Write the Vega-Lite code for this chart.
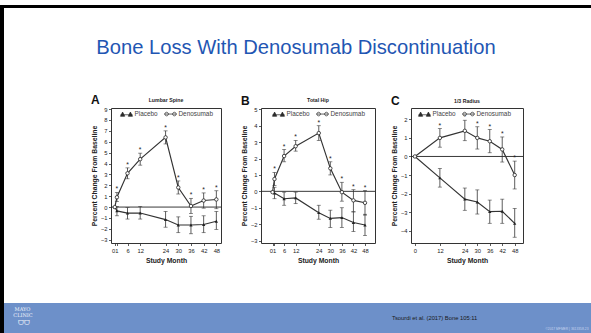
{
  "$schema": "https://vega.github.io/schema/vega-lite/v6.json",
  "background": "white",
  "padding": 0,
  "spacing": 0,
  "config": {
    "font": "Liberation Sans",
    "view": {"stroke": null},
    "axis": {"grid": false, "domain": false, "tickColor": "#333", "tickSize": 2.5, "tickWidth": 0.8, "labelFontSize": 5.8, "labelColor": "#222", "labelPadding": 1.5, "titleFontSize": 6.8, "titleFontWeight": "bold", "titleColor": "#222", "labelFont": "Liberation Sans", "titleFont": "Liberation Sans"},
    "axisX": {"titlePadding": 5, "labelFlush": false, "labelOverlap": false},
    "axisY": {"titlePadding": 3},
    "legend": {"orient": "none", "legendX": 9, "legendY": -1, "direction": "horizontal", "title": null, "padding": 0, "labelFontSize": 6.4, "labelColor": "#444", "symbolSize": 144, "symbolOpacity": 1, "symbolStrokeWidth": 0.7, "columnPadding": 5, "labelOffset": 1.5},
    "title": {"font": "Liberation Sans", "color": "#222"}
  },
  "datasets": {
    "d": [
      {"p": "A", "g": "Denosumab", "m": 0, "v": 0},
      {"p": "A", "g": "Denosumab", "m": 1, "v": 0.9, "lo": 0.5, "hi": 1.35, "st": 1},
      {"p": "A", "g": "Denosumab", "m": 6, "v": 3.1, "lo": 2.6, "hi": 3.6, "st": 1},
      {"p": "A", "g": "Denosumab", "m": 12, "v": 4.4, "lo": 3.85, "hi": 4.95, "st": 1},
      {"p": "A", "g": "Denosumab", "m": 24, "v": 6.4, "lo": 5.8, "hi": 7.0, "st": 1},
      {"p": "A", "g": "Denosumab", "m": 30, "v": 1.8, "lo": 1.2, "hi": 2.4, "st": 1},
      {"p": "A", "g": "Denosumab", "m": 36, "v": 0.1, "lo": -0.6, "hi": 0.8, "st": 1},
      {"p": "A", "g": "Denosumab", "m": 42, "v": 0.6, "lo": -0.1, "hi": 1.3, "st": 1},
      {"p": "A", "g": "Denosumab", "m": 48, "v": 0.7, "lo": -0.15, "hi": 1.5, "st": 1},
      {"p": "A", "g": "Placebo", "m": 0, "v": 0},
      {"p": "A", "g": "Placebo", "m": 1, "v": -0.35, "lo": -0.8, "hi": 0.05},
      {"p": "A", "g": "Placebo", "m": 6, "v": -0.55, "lo": -1.1, "hi": -0.05},
      {"p": "A", "g": "Placebo", "m": 12, "v": -0.55, "lo": -1.1, "hi": 0.05},
      {"p": "A", "g": "Placebo", "m": 24, "v": -1.15, "lo": -1.85, "hi": -0.4},
      {"p": "A", "g": "Placebo", "m": 30, "v": -1.65, "lo": -2.35, "hi": -0.9},
      {"p": "A", "g": "Placebo", "m": 36, "v": -1.65, "lo": -2.45, "hi": -0.85},
      {"p": "A", "g": "Placebo", "m": 42, "v": -1.6, "lo": -2.35, "hi": -0.8},
      {"p": "A", "g": "Placebo", "m": 48, "v": -1.3, "lo": -2.05, "hi": -0.4},
      {"p": "B", "g": "Denosumab", "m": 0, "v": -0.05},
      {"p": "B", "g": "Denosumab", "m": 1, "v": 0.75, "lo": 0.35, "hi": 1.15, "st": 1},
      {"p": "B", "g": "Denosumab", "m": 6, "v": 2.15, "lo": 1.8, "hi": 2.55, "st": 1},
      {"p": "B", "g": "Denosumab", "m": 12, "v": 2.75, "lo": 2.45, "hi": 3.1, "st": 1},
      {"p": "B", "g": "Denosumab", "m": 24, "v": 3.55, "lo": 3.1, "hi": 4.0, "st": 1},
      {"p": "B", "g": "Denosumab", "m": 30, "v": 1.4, "lo": 1.0, "hi": 1.8, "st": 1},
      {"p": "B", "g": "Denosumab", "m": 36, "v": -0.05, "lo": -0.6, "hi": 0.55, "st": 1},
      {"p": "B", "g": "Denosumab", "m": 42, "v": -0.55, "lo": -1.25, "hi": 0.1, "st": 1},
      {"p": "B", "g": "Denosumab", "m": 48, "v": -0.7, "lo": -1.45, "hi": 0.05, "st": 1},
      {"p": "B", "g": "Placebo", "m": 0, "v": 0},
      {"p": "B", "g": "Placebo", "m": 1, "v": -0.1, "lo": -0.45, "hi": 0.25},
      {"p": "B", "g": "Placebo", "m": 6, "v": -0.45, "lo": -0.85, "hi": -0.05},
      {"p": "B", "g": "Placebo", "m": 12, "v": -0.4, "lo": -0.75, "hi": -0.05},
      {"p": "B", "g": "Placebo", "m": 24, "v": -1.3, "lo": -1.7, "hi": -0.85},
      {"p": "B", "g": "Placebo", "m": 30, "v": -1.65, "lo": -2.2, "hi": -1.15},
      {"p": "B", "g": "Placebo", "m": 36, "v": -1.6, "lo": -2.2, "hi": -1.0},
      {"p": "B", "g": "Placebo", "m": 42, "v": -1.9, "lo": -2.45, "hi": -1.25},
      {"p": "B", "g": "Placebo", "m": 48, "v": -2.05, "lo": -2.7, "hi": -1.4},
      {"p": "C", "g": "Denosumab", "m": 0, "v": 0},
      {"p": "C", "g": "Denosumab", "m": 12, "v": 1.0, "lo": 0.5, "hi": 1.5, "st": 1},
      {"p": "C", "g": "Denosumab", "m": 24, "v": 1.38, "lo": 0.85, "hi": 1.95, "st": 1},
      {"p": "C", "g": "Denosumab", "m": 30, "v": 1.0, "lo": 0.4, "hi": 1.6, "st": 1},
      {"p": "C", "g": "Denosumab", "m": 36, "v": 0.82, "lo": 0.2, "hi": 1.45, "st": 1},
      {"p": "C", "g": "Denosumab", "m": 42, "v": 0.38, "lo": -0.3, "hi": 1.05, "st": 1},
      {"p": "C", "g": "Denosumab", "m": 48, "v": -1.0, "lo": -1.75, "hi": -0.25, "st": 1},
      {"p": "C", "g": "Placebo", "m": 0, "v": 0},
      {"p": "C", "g": "Placebo", "m": 12, "v": -1.15, "lo": -1.65, "hi": -0.65},
      {"p": "C", "g": "Placebo", "m": 24, "v": -2.3, "lo": -2.9, "hi": -1.7},
      {"p": "C", "g": "Placebo", "m": 30, "v": -2.45, "lo": -3.1, "hi": -1.8},
      {"p": "C", "g": "Placebo", "m": 36, "v": -2.97, "lo": -3.6, "hi": -2.35},
      {"p": "C", "g": "Placebo", "m": 42, "v": -2.95, "lo": -3.6, "hi": -2.3},
      {"p": "C", "g": "Placebo", "m": 48, "v": -3.6, "lo": -4.35, "hi": -2.8}
    ]
  },
  "hconcat": [
    {"width": 4, "height": 333, "view": {"fill": "black", "stroke": null}, "data": {"values": [{}]}, "mark": {"type": "text", "text": " "}},
    {
      "spacing": 0,
      "vconcat": [
        {"width": 587, "height": 3, "view": {"fill": "black", "stroke": null}, "data": {"values": [{}]}, "mark": {"type": "text", "text": " "}},
        {"width": 587, "height": 82, "data": {"values": [{"t": "Bone Loss With Denosumab Discontinuation"}]}, "mark": {"type": "text", "fontSize": 20.2, "color": "#1f56b3", "font": "Liberation Sans", "dx": -1.5, "dy": -5}, "encoding": {"text": {"field": "t"}}},
        {
          "spacing": 0,
          "resolve": {"legend": {"shape": "independent", "fill": "independent", "stroke": "independent"}},
          "hconcat": [
            {"width": 86, "height": 10, "data": {"values": [{}]}, "mark": {"type": "text", "text": " "}},
            {
              "title": {"text": "A", "anchor": "start", "fontSize": 12, "fontWeight": "bold", "color": "#111", "offset": 0, "dy": 10},
              "resolve": {"legend": {"shape": "independent", "fill": "independent", "stroke": "independent"}},
              "vconcat": [{
                "width": 110, "height": 135,
                "view": {"stroke": "#333", "strokeWidth": 1},
                "title": {"text": "Lumbar Spine", "fontSize": 5.2, "fontWeight": "bold", "offset": 3, "color": "#222"},
                "layer": [
                  {"data": {"values": [{}]}, "mark": {"type": "rule", "color": "#222", "strokeWidth": 0.9}, "encoding": {"y": {"datum": 0, "type": "quantitative", "scale": {"domain": [-3.3, 9.1], "nice": false, "zero": false}, "axis": {"title": "Percent Change From Baseline", "values": [-3,-2,-1,0,1,2,3,4,5,6,7,8,9]}}}},
                  {"data": {"name": "d"}, "transform": [{"filter": "datum.p === 'A'"}], "mark": {"type": "line", "color": "#333", "strokeWidth": 1.15},
                   "encoding": {
                     "x": {"field": "m", "type": "quantitative", "scale": {"domain": [-1.8, 50.2], "nice": false, "zero": false}, "axis": {"title": "Study Month", "values": [0,1,6,12,24,30,36,42,48], "labelExpr": "datum.value == 0 ? '01' : (datum.value == 1 ? '' : datum.label)"}},
                     "y": {"field": "v", "type": "quantitative", "scale": {"domain": [-3.3, 9.1], "nice": false, "zero": false}, "axis": {"title": "Percent Change From Baseline", "values": [-3,-2,-1,0,1,2,3,4,5,6,7,8,9]}},
                     "detail": {"field": "g"}}},
                  {"data": {"name": "d"}, "transform": [{"filter": "datum.p === 'A' && datum.lo != null"}], "mark": {"type": "errorbar", "ticks": {"size": 4}, "color": "#333", "thickness": 0.8},
                   "encoding": {
                     "x": {"field": "m", "type": "quantitative", "scale": {"domain": [-1.8, 50.2], "nice": false, "zero": false}, "axis": {"title": "Study Month", "values": [0,1,6,12,24,30,36,42,48], "labelExpr": "datum.value == 0 ? '01' : (datum.value == 1 ? '' : datum.label)"}},
                     "y": {"field": "lo", "type": "quantitative", "scale": {"domain": [-3.3, 9.1], "nice": false, "zero": false}, "axis": {"title": "Percent Change From Baseline", "values": [-3,-2,-1,0,1,2,3,4,5,6,7,8,9]}},
                     "y2": {"field": "hi"}}},
                  {"data": {"name": "d"}, "transform": [{"filter": "datum.p === 'A' && datum.g === 'Placebo'"}], "mark": {"type": "point", "shape": "triangle-up", "filled": true, "size": 11, "color": "#222", "opacity": 1},
                   "encoding": {
                     "x": {"field": "m", "type": "quantitative", "scale": {"domain": [-1.8, 50.2], "nice": false, "zero": false}, "axis": {"title": "Study Month", "values": [0,1,6,12,24,30,36,42,48], "labelExpr": "datum.value == 0 ? '01' : (datum.value == 1 ? '' : datum.label)"}},
                     "y": {"field": "v", "type": "quantitative", "scale": {"domain": [-3.3, 9.1], "nice": false, "zero": false}, "axis": {"title": "Percent Change From Baseline", "values": [-3,-2,-1,0,1,2,3,4,5,6,7,8,9]}}}},
                  {"data": {"name": "d"}, "transform": [{"filter": "datum.p === 'A' && datum.g === 'Denosumab'"}], "mark": {"type": "point", "shape": "circle", "size": 12, "fill": "white", "stroke": "#222", "strokeWidth": 0.8, "opacity": 1},
                   "encoding": {
                     "x": {"field": "m", "type": "quantitative", "scale": {"domain": [-1.8, 50.2], "nice": false, "zero": false}, "axis": {"title": "Study Month", "values": [0,1,6,12,24,30,36,42,48], "labelExpr": "datum.value == 0 ? '01' : (datum.value == 1 ? '' : datum.label)"}},
                     "y": {"field": "v", "type": "quantitative", "scale": {"domain": [-3.3, 9.1], "nice": false, "zero": false}, "axis": {"title": "Percent Change From Baseline", "values": [-3,-2,-1,0,1,2,3,4,5,6,7,8,9]}}}},
                  {"data": {"name": "d"}, "transform": [{"filter": "datum.p === 'A'"}], "mark": {"type": "point", "opacity": 0},
                   "encoding": {
                     "x": {"field": "m", "type": "quantitative", "scale": {"domain": [-1.8, 50.2], "nice": false, "zero": false}, "axis": {"title": "Study Month", "values": [0,1,6,12,24,30,36,42,48], "labelExpr": "datum.value == 0 ? '01' : (datum.value == 1 ? '' : datum.label)"}},
                     "y": {"field": "v", "type": "quantitative", "scale": {"domain": [-3.3, 9.1], "nice": false, "zero": false}, "axis": {"title": "Percent Change From Baseline", "values": [-3,-2,-1,0,1,2,3,4,5,6,7,8,9]}},
                     "shape": {"field": "g", "type": "nominal", "scale": {"domain": ["Placebo", "Denosumab"], "range": ["M-1,0.15H1M-1,0.4L-0.65,-0.3L-0.3,0.4ZM0.3,0.4L0.65,-0.3L1,0.4Z", "M-1,0H1M-0.35,0A0.3,0.3,0,1,1,-0.95,0A0.3,0.3,0,1,1,-0.35,0ZM0.95,0A0.3,0.3,0,1,1,0.35,0A0.3,0.3,0,1,1,0.95,0Z"]}},
                     "fill": {"field": "g", "type": "nominal", "scale": {"domain": ["Placebo", "Denosumab"], "range": ["#333", "white"]}},
                     "stroke": {"field": "g", "type": "nominal", "scale": {"domain": ["Placebo", "Denosumab"], "range": ["#222", "#222"]}}}},
                  {"data": {"name": "d"}, "transform": [{"filter": "datum.p === 'A' && datum.st == 1"}], "mark": {"type": "text", "text": "*", "fontSize": 6.8, "baseline": "bottom", "color": "#222"},
                   "encoding": {
                     "x": {"field": "m", "type": "quantitative", "scale": {"domain": [-1.8, 50.2], "nice": false, "zero": false}, "axis": {"title": "Study Month", "values": [0,1,6,12,24,30,36,42,48], "labelExpr": "datum.value == 0 ? '01' : (datum.value == 1 ? '' : datum.label)"}},
                     "y": {"field": "hi", "type": "quantitative", "scale": {"domain": [-3.3, 9.1], "nice": false, "zero": false}, "axis": {"title": "Percent Change From Baseline", "values": [-3,-2,-1,0,1,2,3,4,5,6,7,8,9]}}}}
                ]
              }]
            },
            {"width": 18, "height": 10, "data": {"values": [{}]}, "mark": {"type": "text", "text": " "}},
            {
              "title": {"text": "B", "anchor": "start", "fontSize": 12, "fontWeight": "bold", "color": "#111", "offset": 0, "dy": 10},
              "resolve": {"legend": {"shape": "independent", "fill": "independent", "stroke": "independent"}},
              "vconcat": [{
                "width": 114, "height": 135,
                "view": {"stroke": "#333", "strokeWidth": 1},
                "title": {"text": "Total Hip", "fontSize": 5.2, "fontWeight": "bold", "offset": 3, "color": "#222"},
                "layer": [
                  {"data": {"values": [{}]}, "mark": {"type": "rule", "color": "#222", "strokeWidth": 0.9}, "encoding": {"y": {"datum": 0, "type": "quantitative", "scale": {"domain": [-3.15, 5.08], "nice": false, "zero": false}, "axis": {"title": "Percent Change From Baseline", "values": [-3,-2,-1,0,1,2,3,4,5]}}}},
                  {"data": {"name": "d"}, "transform": [{"filter": "datum.p === 'B'"}], "mark": {"type": "line", "color": "#333", "strokeWidth": 1.15},
                   "encoding": {
                     "x": {"field": "m", "type": "quantitative", "scale": {"domain": [-6, 53.2], "nice": false, "zero": false}, "axis": {"title": "Study Month", "values": [0,1,6,12,24,30,36,42,48], "labelExpr": "datum.value == 0 ? '01' : (datum.value == 1 ? '' : datum.label)"}},
                     "y": {"field": "v", "type": "quantitative", "scale": {"domain": [-3.15, 5.08], "nice": false, "zero": false}, "axis": {"title": "Percent Change From Baseline", "values": [-3,-2,-1,0,1,2,3,4,5]}},
                     "detail": {"field": "g"}}},
                  {"data": {"name": "d"}, "transform": [{"filter": "datum.p === 'B' && datum.lo != null"}], "mark": {"type": "errorbar", "ticks": {"size": 4}, "color": "#333", "thickness": 0.8},
                   "encoding": {
                     "x": {"field": "m", "type": "quantitative", "scale": {"domain": [-6, 53.2], "nice": false, "zero": false}, "axis": {"title": "Study Month", "values": [0,1,6,12,24,30,36,42,48], "labelExpr": "datum.value == 0 ? '01' : (datum.value == 1 ? '' : datum.label)"}},
                     "y": {"field": "lo", "type": "quantitative", "scale": {"domain": [-3.15, 5.08], "nice": false, "zero": false}, "axis": {"title": "Percent Change From Baseline", "values": [-3,-2,-1,0,1,2,3,4,5]}},
                     "y2": {"field": "hi"}}},
                  {"data": {"name": "d"}, "transform": [{"filter": "datum.p === 'B' && datum.g === 'Placebo'"}], "mark": {"type": "point", "shape": "triangle-up", "filled": true, "size": 11, "color": "#222", "opacity": 1},
                   "encoding": {
                     "x": {"field": "m", "type": "quantitative", "scale": {"domain": [-6, 53.2], "nice": false, "zero": false}, "axis": {"title": "Study Month", "values": [0,1,6,12,24,30,36,42,48], "labelExpr": "datum.value == 0 ? '01' : (datum.value == 1 ? '' : datum.label)"}},
                     "y": {"field": "v", "type": "quantitative", "scale": {"domain": [-3.15, 5.08], "nice": false, "zero": false}, "axis": {"title": "Percent Change From Baseline", "values": [-3,-2,-1,0,1,2,3,4,5]}}}},
                  {"data": {"name": "d"}, "transform": [{"filter": "datum.p === 'B' && datum.g === 'Denosumab'"}], "mark": {"type": "point", "shape": "circle", "size": 12, "fill": "white", "stroke": "#222", "strokeWidth": 0.8, "opacity": 1},
                   "encoding": {
                     "x": {"field": "m", "type": "quantitative", "scale": {"domain": [-6, 53.2], "nice": false, "zero": false}, "axis": {"title": "Study Month", "values": [0,1,6,12,24,30,36,42,48], "labelExpr": "datum.value == 0 ? '01' : (datum.value == 1 ? '' : datum.label)"}},
                     "y": {"field": "v", "type": "quantitative", "scale": {"domain": [-3.15, 5.08], "nice": false, "zero": false}, "axis": {"title": "Percent Change From Baseline", "values": [-3,-2,-1,0,1,2,3,4,5]}}}},
                  {"data": {"name": "d"}, "transform": [{"filter": "datum.p === 'B'"}], "mark": {"type": "point", "opacity": 0},
                   "encoding": {
                     "x": {"field": "m", "type": "quantitative", "scale": {"domain": [-6, 53.2], "nice": false, "zero": false}, "axis": {"title": "Study Month", "values": [0,1,6,12,24,30,36,42,48], "labelExpr": "datum.value == 0 ? '01' : (datum.value == 1 ? '' : datum.label)"}},
                     "y": {"field": "v", "type": "quantitative", "scale": {"domain": [-3.15, 5.08], "nice": false, "zero": false}, "axis": {"title": "Percent Change From Baseline", "values": [-3,-2,-1,0,1,2,3,4,5]}},
                     "shape": {"field": "g", "type": "nominal", "scale": {"domain": ["Placebo", "Denosumab"], "range": ["M-1,0.15H1M-1,0.4L-0.65,-0.3L-0.3,0.4ZM0.3,0.4L0.65,-0.3L1,0.4Z", "M-1,0H1M-0.35,0A0.3,0.3,0,1,1,-0.95,0A0.3,0.3,0,1,1,-0.35,0ZM0.95,0A0.3,0.3,0,1,1,0.35,0A0.3,0.3,0,1,1,0.95,0Z"]}, "legend": {"legendX": 11}},
                     "fill": {"field": "g", "type": "nominal", "scale": {"domain": ["Placebo", "Denosumab"], "range": ["#333", "white"]}, "legend": {"legendX": 11}},
                     "stroke": {"field": "g", "type": "nominal", "scale": {"domain": ["Placebo", "Denosumab"], "range": ["#222", "#222"]}, "legend": {"legendX": 11}}}},
                  {"data": {"name": "d"}, "transform": [{"filter": "datum.p === 'B' && datum.st == 1"}], "mark": {"type": "text", "text": "*", "fontSize": 6.8, "baseline": "bottom", "color": "#222"},
                   "encoding": {
                     "x": {"field": "m", "type": "quantitative", "scale": {"domain": [-6, 53.2], "nice": false, "zero": false}, "axis": {"title": "Study Month", "values": [0,1,6,12,24,30,36,42,48], "labelExpr": "datum.value == 0 ? '01' : (datum.value == 1 ? '' : datum.label)"}},
                     "y": {"field": "hi", "type": "quantitative", "scale": {"domain": [-3.15, 5.08], "nice": false, "zero": false}, "axis": {"title": "Percent Change From Baseline", "values": [-3,-2,-1,0,1,2,3,4,5]}}}}
                ]
              }]
            },
            {"width": 14, "height": 10, "data": {"values": [{}]}, "mark": {"type": "text", "text": " "}},
            {
              "title": {"text": "C", "anchor": "start", "fontSize": 12, "fontWeight": "bold", "color": "#111", "offset": 0, "dy": 10},
              "resolve": {"legend": {"shape": "independent", "fill": "independent", "stroke": "independent"}},
              "vconcat": [{
                "width": 112, "height": 135,
                "view": {"stroke": "#333", "strokeWidth": 1},
                "title": {"text": "1/3 Radius", "fontSize": 5.2, "fontWeight": "bold", "offset": 3, "color": "#222"},
                "layer": [
                  {"data": {"values": [{}]}, "mark": {"type": "rule", "color": "#222", "strokeWidth": 0.9}, "encoding": {"y": {"datum": 0, "type": "quantitative", "scale": {"domain": [-4.66, 2.61], "nice": false, "zero": false}, "axis": {"title": "Percent Change From Baseline", "values": [-4,-3,-2,-1,0,1,2]}}}},
                  {"data": {"name": "d"}, "transform": [{"filter": "datum.p === 'C'"}], "mark": {"type": "line", "color": "#333", "strokeWidth": 1.15},
                   "encoding": {
                     "x": {"field": "m", "type": "quantitative", "scale": {"domain": [-1.9, 52], "nice": false, "zero": false}, "axis": {"title": "Study Month", "values": [0,12,24,30,36,42,48]}},
                     "y": {"field": "v", "type": "quantitative", "scale": {"domain": [-4.66, 2.61], "nice": false, "zero": false}, "axis": {"title": "Percent Change From Baseline", "values": [-4,-3,-2,-1,0,1,2]}},
                     "detail": {"field": "g"}}},
                  {"data": {"name": "d"}, "transform": [{"filter": "datum.p === 'C' && datum.lo != null"}], "mark": {"type": "errorbar", "ticks": {"size": 4}, "color": "#333", "thickness": 0.8},
                   "encoding": {
                     "x": {"field": "m", "type": "quantitative", "scale": {"domain": [-1.9, 52], "nice": false, "zero": false}, "axis": {"title": "Study Month", "values": [0,12,24,30,36,42,48]}},
                     "y": {"field": "lo", "type": "quantitative", "scale": {"domain": [-4.66, 2.61], "nice": false, "zero": false}, "axis": {"title": "Percent Change From Baseline", "values": [-4,-3,-2,-1,0,1,2]}},
                     "y2": {"field": "hi"}}},
                  {"data": {"name": "d"}, "transform": [{"filter": "datum.p === 'C' && datum.g === 'Placebo'"}], "mark": {"type": "point", "shape": "triangle-up", "filled": true, "size": 11, "color": "#222", "opacity": 1},
                   "encoding": {
                     "x": {"field": "m", "type": "quantitative", "scale": {"domain": [-1.9, 52], "nice": false, "zero": false}, "axis": {"title": "Study Month", "values": [0,12,24,30,36,42,48]}},
                     "y": {"field": "v", "type": "quantitative", "scale": {"domain": [-4.66, 2.61], "nice": false, "zero": false}, "axis": {"title": "Percent Change From Baseline", "values": [-4,-3,-2,-1,0,1,2]}}}},
                  {"data": {"name": "d"}, "transform": [{"filter": "datum.p === 'C' && datum.g === 'Denosumab'"}], "mark": {"type": "point", "shape": "circle", "size": 12, "fill": "white", "stroke": "#222", "strokeWidth": 0.8, "opacity": 1},
                   "encoding": {
                     "x": {"field": "m", "type": "quantitative", "scale": {"domain": [-1.9, 52], "nice": false, "zero": false}, "axis": {"title": "Study Month", "values": [0,12,24,30,36,42,48]}},
                     "y": {"field": "v", "type": "quantitative", "scale": {"domain": [-4.66, 2.61], "nice": false, "zero": false}, "axis": {"title": "Percent Change From Baseline", "values": [-4,-3,-2,-1,0,1,2]}}}},
                  {"data": {"name": "d"}, "transform": [{"filter": "datum.p === 'C'"}], "mark": {"type": "point", "opacity": 0},
                   "encoding": {
                     "x": {"field": "m", "type": "quantitative", "scale": {"domain": [-1.9, 52], "nice": false, "zero": false}, "axis": {"title": "Study Month", "values": [0,12,24,30,36,42,48]}},
                     "y": {"field": "v", "type": "quantitative", "scale": {"domain": [-4.66, 2.61], "nice": false, "zero": false}, "axis": {"title": "Percent Change From Baseline", "values": [-4,-3,-2,-1,0,1,2]}},
                     "shape": {"field": "g", "type": "nominal", "scale": {"domain": ["Placebo", "Denosumab"], "range": ["M-1,0.15H1M-1,0.4L-0.65,-0.3L-0.3,0.4ZM0.3,0.4L0.65,-0.3L1,0.4Z", "M-1,0H1M-0.35,0A0.3,0.3,0,1,1,-0.95,0A0.3,0.3,0,1,1,-0.35,0ZM0.95,0A0.3,0.3,0,1,1,0.35,0A0.3,0.3,0,1,1,0.95,0Z"]}, "legend": {"legendX": 7}},
                     "fill": {"field": "g", "type": "nominal", "scale": {"domain": ["Placebo", "Denosumab"], "range": ["#333", "white"]}, "legend": {"legendX": 7}},
                     "stroke": {"field": "g", "type": "nominal", "scale": {"domain": ["Placebo", "Denosumab"], "range": ["#222", "#222"]}, "legend": {"legendX": 7}}}},
                  {"data": {"name": "d"}, "transform": [{"filter": "datum.p === 'C' && datum.st == 1"}], "mark": {"type": "text", "text": "*", "fontSize": 6.8, "baseline": "bottom", "color": "#222"},
                   "encoding": {
                     "x": {"field": "m", "type": "quantitative", "scale": {"domain": [-1.9, 52], "nice": false, "zero": false}, "axis": {"title": "Study Month", "values": [0,12,24,30,36,42,48]}},
                     "y": {"field": "hi", "type": "quantitative", "scale": {"domain": [-4.66, 2.61], "nice": false, "zero": false}, "axis": {"title": "Percent Change From Baseline", "values": [-4,-3,-2,-1,0,1,2]}}}}
                ]
              }]
            }
          ]
        },
        {"width": 587, "height": 37, "data": {"values": [{}]}, "mark": {"type": "text", "text": " "}},
        {
          "width": 587, "height": 31,
          "view": {"fill": "#6d90c9", "stroke": null},
          "layer": [
            {"data": {"values": [{"t": "Tsourdi et al. (2017) Bone 105:11"}]}, "mark": {"type": "text", "align": "left", "fontSize": 5.8, "color": "#1a1a1a", "dx": 94.5, "dy": -0.5}, "encoding": {"text": {"field": "t"}}},
            {"data": {"values": [{"t": "©2017 MFMER  |  3613358-23"}]}, "mark": {"type": "text", "align": "right", "fontSize": 3.3, "color": "#c5d3ee", "dx": 291, "dy": 10}, "encoding": {"text": {"field": "t"}}},
            {"data": {"values": [{"t": "MAYO"}]}, "mark": {"type": "text", "font": "DejaVu Serif", "fontSize": 5, "color": "#eef2fa", "dx": -275, "dy": -9.5}, "encoding": {"text": {"field": "t"}}},
            {"data": {"values": [{"t": "CLINIC"}]}, "mark": {"type": "text", "font": "DejaVu Serif", "fontSize": 5, "color": "#eef2fa", "dx": -274.5, "dy": -3.8}, "encoding": {"text": {"field": "t"}}},
            {"data": {"values": [{"t": "ᗜᗜ"}]}, "mark": {"type": "text", "font": "DejaVu Sans", "fontSize": 7, "color": "#eef2fa", "dx": -274, "dy": 4}, "encoding": {"text": {"field": "t"}}}
          ]
        }
      ]
    }
  ]
}
